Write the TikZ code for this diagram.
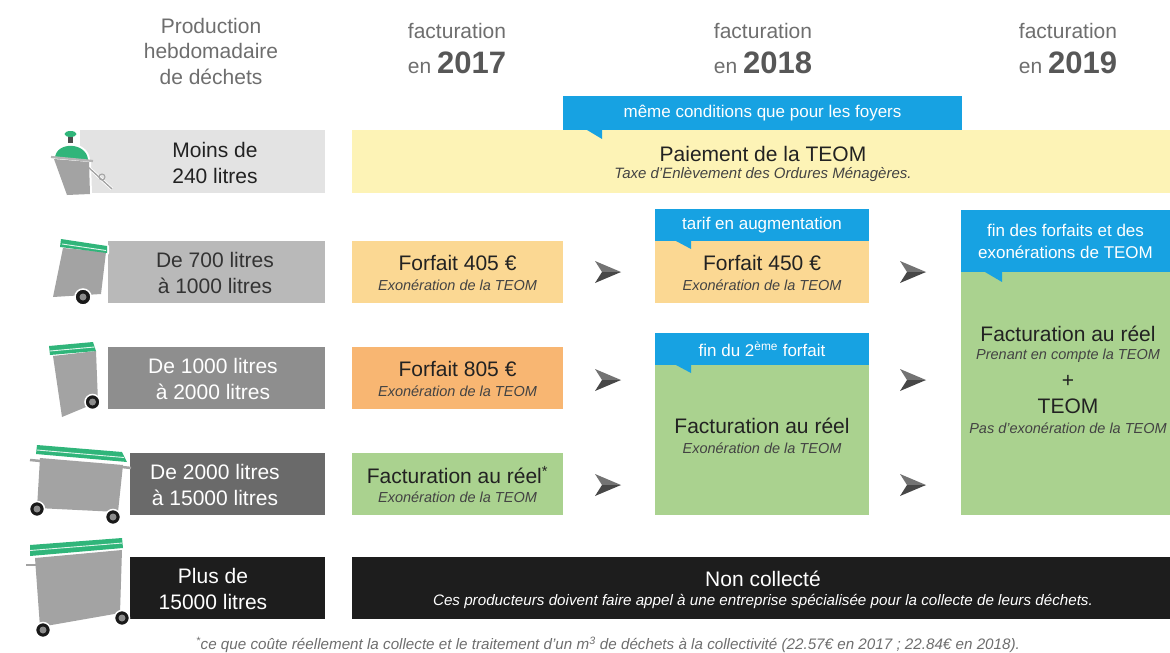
\documentclass[tikz,border=0pt]{standalone}
\usepackage{fontspec}
\setmainfont{Liberation Sans}

\definecolor{hdrgray}{HTML}{6E6E6E}
\definecolor{yeargray}{HTML}{575757}
\definecolor{txtdark}{HTML}{222222}
\definecolor{teomyellow}{HTML}{FDF3B6}
\definecolor{forfaitA}{HTML}{FBD893}
\definecolor{forfaitB}{HTML}{F8B672}
\definecolor{reelgreen}{HTML}{AAD28F}
\definecolor{calloutblue}{HTML}{17A2E2}
\definecolor{rowA}{HTML}{E3E3E3}
\definecolor{rowB}{HTML}{B9B9B9}
\definecolor{rowC}{HTML}{8E8E8E}
\definecolor{rowD}{HTML}{6A6A6A}
\definecolor{rowE}{HTML}{1D1D1D}
\definecolor{bingray}{HTML}{A3A3A3}
\definecolor{lidgreen}{HTML}{30B57A}

\newcommand{\maintxt}{\fontsize{21}{25.5}\selectfont}
\newcommand{\subtxt}{\fontsize{14.5}{17}\selectfont\itshape}
\newcommand{\tagtxt}{\fontsize{17}{22}\selectfont}
\newcommand{\footntxt}{\fontsize{15.2}{17}\selectfont\itshape}
\newcommand{\yearnum}[1]{{\fontsize{31}{31}\selectfont\bfseries\color{yeargray}#1}}

\tikzset{
  box/.style={inner sep=0pt, outer sep=0pt, anchor=north west},
  headtxt/.style={inner sep=0pt, text=hdrgray, align=center, font=\maintxt},
  big/.style={inner sep=0pt, text=txtdark, align=center, font=\maintxt},
  sub/.style={inner sep=0pt, text=txtdark!85, align=center, font=\subtxt},
  tag/.style={inner sep=0pt, text=white, align=center, font=\tagtxt},
  foot/.style={inner sep=0pt, text=hdrgray, font=\footntxt},
  halo/.style={draw=white, fill=white, line width=4, line join=round},
  wheel/.style={fill=black!90, draw=white, line width=1.5},
  hub/.style={fill=black!45},
  rim/.style={draw=white!85!lidgreen, line width=0.9},
}

\begin{document}
\begin{tikzpicture}[x=1pt, y=-1pt]
\useasboundingbox (0,0) rectangle (1170,653);

% column heads
\node[headtxt] (hprod) at (211,51) {Production\\hebdomadaire\\de déchets};
\node[headtxt] (h17a) at (457,31) {facturation};
\node[headtxt] (h17b) at (457,63) {en \yearnum{2017}};
\node[headtxt] (h18a) at (763,31) {facturation};
\node[headtxt] (h18b) at (763,63) {en \yearnum{2018}};
\node[headtxt] (h19a) at (1068,31) {facturation};
\node[headtxt] (h19b) at (1068,63) {en \yearnum{2019}};

% row labels
\node[box, fill=rowA, minimum width=245, minimum height=63] (rowa) at (80,130) {};
\node[big] (rowatxt) at (215,163) {Moins de\\240 litres};
\node[box, fill=rowB, minimum width=217, minimum height=62] (rowb) at (108,241) {};
\node[big, text=black!80] (rowbtxt) at (215,273) {De 700 litres\\à 1000 litres};
\node[box, fill=rowC, minimum width=217, minimum height=62] (rowc) at (108,347) {};
\node[big, text=white] (rowctxt) at (213,379) {De 1000 litres\\à 2000 litres};
\node[box, fill=rowD, minimum width=195, minimum height=62] (rowd) at (130,453) {};
\node[big, text=white] (rowdtxt) at (215,485) {De 2000 litres\\à 15000 litres};
\node[box, fill=rowE, minimum width=195, minimum height=62] (rowe) at (130,557) {};
\node[big, text=white] (rowetxt) at (213,589) {Plus de\\15000 litres};

% TEOM band
\node[box, fill=teomyellow, minimum width=818, minimum height=63] (teom) at (352,130) {};
\node[big] (teomtop) at (763,154) {Paiement de la TEOM};
\node[sub, font=\fontsize{15}{17}\selectfont\itshape] (teomsub) at (763,175) {Taxe d'Enlèvement des Ordures Ménagères.};
\node[box, fill=calloutblue, minimum width=399, minimum height=34] (foyers) at (563,96) {};
\fill[calloutblue] (foyers.south west) ++(24,0) -- ++(15,0) -- ++(0,9) -- cycle;
\node[tag] (foyerstxt) at (foyers.center) {même conditions que pour les foyers};

% 2017
\node[box, fill=forfaitA, minimum width=211, minimum height=62] (f405) at (352,241) {};
\node[big] (f405top) at (457.5,263) {Forfait 405 €};
\node[sub] (f405sub) at (457.5,285) {Exonération de la TEOM};
\node[box, fill=forfaitB, minimum width=211, minimum height=62] (f805) at (352,347) {};
\node[big] (f805top) at (457.5,369) {Forfait 805 €};
\node[sub] (f805sub) at (457.5,391) {Exonération de la TEOM};
\node[box, fill=reelgreen, minimum width=211, minimum height=62] (reel17) at (352,453) {};
\node[big] (reel17top) at (457.5,475) {Facturation au réel\textsuperscript{*}};
\node[sub] (reel17sub) at (457.5,497) {Exonération de la TEOM};

% 2018
\node[box, fill=forfaitA, minimum width=214, minimum height=62] (f450) at (655,241) {};
\node[big] (f450top) at (762,263) {Forfait 450 €};
\node[sub] (f450sub) at (762,285) {Exonération de la TEOM};
\node[box, fill=calloutblue, minimum width=214, minimum height=32] (hausse) at (655,209) {};
\fill[calloutblue] (hausse.south west) ++(21,0) -- ++(15,0) -- ++(0,8) -- cycle;
\node[tag] (haussetxt) at (hausse.center) {tarif en augmentation};
\node[box, fill=reelgreen, minimum width=214, minimum height=150] (reel18) at (655,365) {};
\node[big] (reel18top) at (762,426) {Facturation au réel};
\node[sub] (reel18sub) at (762,448) {Exonération de la TEOM};
\node[box, fill=calloutblue, minimum width=214, minimum height=32] (fin2) at (655,333) {};
\fill[calloutblue] (fin2.south west) ++(21,0) -- ++(15,0) -- ++(0,8) -- cycle;
\node[tag] (fin2txt) at (fin2.center) {fin du 2\textsuperscript{ème} forfait};

% 2019
\node[box, fill=reelgreen, minimum width=209, minimum height=243] (reel19) at (961,272) {};
\node[big] (reel19top) at (1068,334) {Facturation au réel};
\node[sub] (reel19sub) at (1068,356) {Prenant en compte la TEOM};
\node[big] (plus) at (1068,381) {+};
\node[big] (teom19) at (1068,406) {TEOM};
\node[sub] (teom19sub) at (1068,428) {Pas d'exonération de la TEOM};
\node[box, fill=calloutblue, minimum width=209, minimum height=62] (finall) at (961,210) {};
\fill[calloutblue] (finall.south west) ++(24,0) -- ++(17,0) -- ++(0,10) -- cycle;
\node[tag] (finalltxt) at (finall.center) {fin des forfaits et des\\exonérations de TEOM};

% non collecte
\node[box, fill=rowE, minimum width=818, minimum height=62] (noncol) at (352,557) {};
\node[big, text=white] (noncoltop) at (763,579) {Non collecté};
\node[sub, text=white, font=\fontsize{15.2}{17}\selectfont\itshape] (noncolsub) at (763,601) {Ces producteurs doivent faire appel à une entreprise spécialisée pour la collecte de leurs déchets.};

% arrows
\foreach \ax in {608,913}
  \foreach \ay in {272,380,485} {
    \fill[black!55] (\ax-13,\ay-11) -- (\ax+13,\ay) -- (\ax-6,\ay) -- cycle;
    \fill[black!72] (\ax-13,\ay+11) -- (\ax+13,\ay) -- (\ax-6,\ay) -- cycle;
  }

% bin 1
\draw[halo] (54,159) -- (89,162) -- (90,194) -- (67,195) -- cycle;
\draw[halo] (55,158) .. controls (56,141) and (87,142) .. (88,160) -- cycle;
\draw[halo, line width=3] (88,167) -- (112,189);
\draw[bingray, line width=1.3] (88,167) -- (112,189);
\draw[bingray, line width=1] (102,177) circle (3);
\fill[bingray] (54,159) -- (89,162) -- (90,194) -- (67,195) -- cycle;
\fill[lidgreen] (55,158) .. controls (56,141) and (87,142) .. (88,160) -- cycle;
\fill[black!70] (68,136) rectangle (73,143);
\fill[lidgreen] (70.5,134) ellipse (6 and 3);
\draw[bingray!80, line width=2.2] (51,157) -- (93,161);

% bin 2
\draw[halo] (63,248) -- (106,252) -- (101,294) -- (53,297) -- cycle;
\draw[halo] (61,239) -- (107,246) -- (107,253) -- (60,247) -- cycle;
\fill[bingray] (63,248) -- (106,252) -- (101,294) -- (53,297) -- cycle;
\fill[lidgreen] (61,239) -- (107,246) -- (107,253) -- (60,247) -- cycle;
\draw[rim] (62,244) -- (106,250.5);
\filldraw[wheel] (83,297) circle (8);
\fill[hub] (83,297) circle (3.5);

% bin 3
\draw[halo] (53,356) -- (96,351) -- (98,402) -- (62,417) -- cycle;
\draw[halo] (49,346) -- (93,342) -- (96,351) -- (50,355) -- cycle;
\fill[bingray] (53,356) -- (96,351) -- (98,402) -- (62,417) -- cycle;
\fill[lidgreen] (49,346) -- (93,342) -- (96,351) -- (50,355) -- cycle;
\draw[rim] (50,351) -- (94.5,347);
\filldraw[wheel] (92.5,402) circle (7.5);
\fill[hub] (92.5,402) circle (3.5);

% bin 4
\draw[halo] (40,458) -- (123,465) -- (118,512) -- (37,508) -- cycle;
\draw[halo] (37,445) -- (122,452) -- (127,462) -- (36,454) -- cycle;
\draw[bingray, line width=2.5] (30,460) -- (41,461);
\draw[bingray, line width=2.5] (122,467) -- (131,468);
\fill[bingray] (40,458) -- (123,465) -- (118,512) -- (37,508) -- cycle;
\fill[lidgreen] (37,445) -- (122,452) -- (127,462) -- (36,454) -- cycle;
\draw[rim] (37,450) -- (124,457.5);
\filldraw[wheel] (37,509) circle (7.5);
\fill[hub] (37,509) circle (3.5);
\filldraw[wheel] (113,517) circle (7.5);
\fill[hub] (113,517) circle (3.5);

% bin 5
\draw[halo] (35,558) -- (122,550) -- (120,613) -- (40,627) -- cycle;
\draw[halo] (30,545) -- (122,538) -- (123,548) -- (30,556) -- cycle;
\draw[bingray, line width=2.5] (26,565) -- (36,565);
\fill[bingray] (35,558) -- (122,550) -- (120,613) -- (40,627) -- cycle;
\fill[lidgreen] (30,545) -- (122,538) -- (123,548) -- (30,556) -- cycle;
\draw[rim] (30,550.5) -- (122.5,543);
\filldraw[wheel] (43,630) circle (7.5);
\fill[hub] (43,630) circle (3.5);
\filldraw[wheel] (122,618) circle (7.5);
\fill[hub] (122,618) circle (3.5);

% footnote
\node[foot] (note) at (608,645) {\textsuperscript{*}ce que coûte réellement la collecte et le traitement d'un m\textsuperscript{3} de déchets à la collectivité (22.57€ en 2017 ; 22.84€ en 2018).};
\end{tikzpicture}
\end{document}
